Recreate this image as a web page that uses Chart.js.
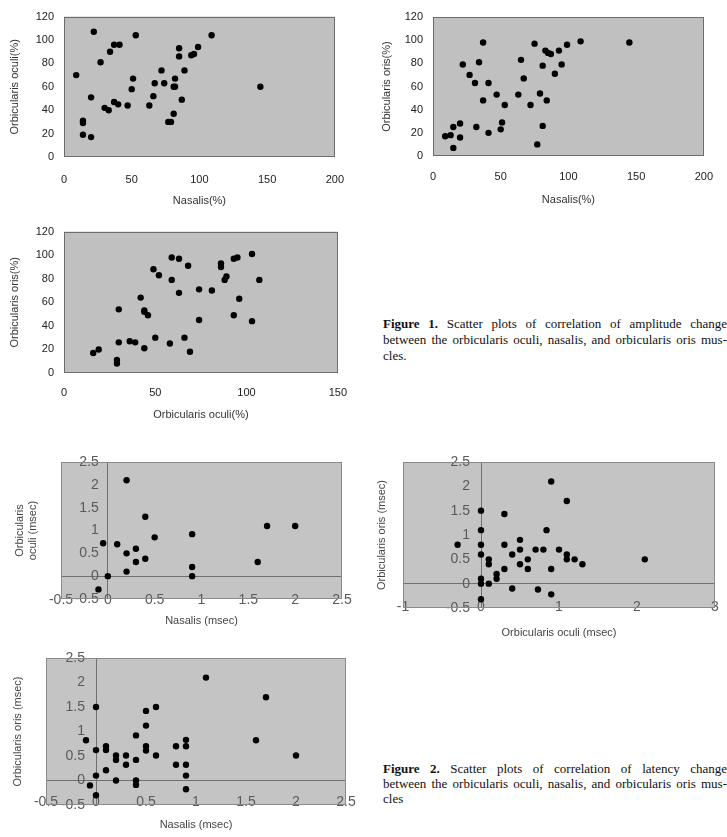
<!DOCTYPE html>
<html>
<head>
<meta charset="utf-8">
<script src="https://cdn.jsdelivr.net/npm/chart.js@4/dist/chart.umd.min.js"></script>
<style>
  html, body { margin: 0; padding: 0; background: #ffffff; }
  body { position: relative; width: 727px; height: 837px; overflow: hidden; }
  canvas { position: absolute; }
  .cap { position: absolute; left: 383px; width: 344px; font-family: "Liberation Serif", "Times New Roman", serif; font-size: 13px; color: #111; }
  .cap div { text-align: justify; text-align-last: justify; white-space: nowrap; }
  .cap div.last { text-align: left; text-align-last: left; }
</style>
</head>
<body>
<div class="cap" id="cap1" style="top:316px; line-height:16px;">
  <div><b>Figure 1.</b> Scatter plots of correlation of amplitude change</div>
  <div>between the orbicularis oculi, nasalis, and orbicularis oris mus-</div>
  <div class="last">cles.</div>
</div>
<div class="cap" id="cap2" style="top:761px; line-height:15px;">
  <div><b>Figure 2.</b> Scatter plots of correlation of latency change</div>
  <div>between the orbicularis oculi, nasalis, and orbicularis oris mus-</div>
  <div class="last">cles</div>
</div>
<script>
// ---------- DATA ----------
// Figure 1 (amplitude change, %)
const fig1a_nasalis = [9,22,53,109,37,41,34,27,85,85,94,96,99,72,89,51,67,74,82,81,82,50,145,20,66,87,37,40,47,63,30,33,81,77,79,14,14,14,20];
const fig1a_oculi   = [70,107,104,104,96,96,90,81,93,86,87,88,94,74,74,67,63,63,67,60,60,58,60,51,52,49,47,45,44,44,42,40,37,30,30,31,29,19,17];

const fig1b_nasalis = [37,75,109,145,99,93,83,85,87,22,34,65,81,95,27,67,90,31,41,47,63,79,37,84,53,72,20,51,50,32,15,81,9,13,20,41,15,77];
const fig1b_oris    = [98,97,99,98,96,91,91,89,88,79,81,83,78,79,70,67,71,63,63,53,53,54,48,48,44,44,28,29,23,25,25,26,17,18,16,20,7,10];

const fig1c_oculi   = [59,63,103,93,95,68,86,86,49,52,59,89,88,107,74,81,63,42,96,30,44,44,46,93,74,103,30,36,39,50,58,66,19,16,44,69,29,29];
const fig1c_oris    = [98,97,101,97,98,91,93,90,88,83,79,82,79,79,71,70,68,64,63,54,53,52,49,49,45,44,26,27,26,30,25,30,20,17,21,18,11,8];

// Figure 2 (latency change, msec)
const fig2a_nasalis = [0.2,0.4,1.7,2.0,0.5,0.9,-0.05,0.1,0.2,0.3,0.3,0.4,0.2,0.9,0.9,0,1.6,-0.1];
const fig2a_oculi   = [2.1,1.3,1.1,1.1,0.85,0.92,0.72,0.7,0.5,0.6,0.31,0.38,0.1,0.2,0,0,0.31,-0.29];

const fig2b_oculi   = [0.9,1.1,0,0.3,0,0.84,-0.3,0,0.3,0.5,0.5,0.7,0.8,1.0,0,0.4,1.1,1.1,1.2,1.3,2.1,0.1,0.1,0.6,0.5,0.6,0.3,0.9,0.2,0.2,0,0,0.1,0.4,0.73,0.9,0];
const fig2b_oris    = [2.1,1.7,1.5,1.43,1.1,1.1,0.8,0.8,0.8,0.9,0.7,0.7,0.7,0.7,0.6,0.6,0.6,0.5,0.5,0.4,0.5,0.5,0.4,0.5,0.4,0.3,0.3,0.3,0.2,0.1,0.1,0,0,-0.1,-0.12,-0.22,-0.32];

const fig2c_nasalis = [1.1,1.7,0,0.6,0.5,0.5,0.4,-0.1,1.6,0.9,0.9,0.8,0.1,0.1,0,0.5,0.5,0.2,0.2,0.3,0.4,0.6,2.0,0.3,0.8,0.9,0.1,0,0.9,0.2,0.4,0.4,-0.06,0.9,0];
const fig2c_oris    = [2.1,1.7,1.5,1.5,1.42,1.12,0.92,0.82,0.82,0.83,0.7,0.7,0.7,0.62,0.62,0.7,0.61,0.51,0.42,0.51,0.42,0.51,0.51,0.32,0.32,0.32,0.21,0.1,0.1,0,0,-0.09,-0.1,-0.18,-0.3];

// Tick labels
const pctYTicks      = [0,20,40,60,80,100,120];
const pctXTicks200   = [0,50,100,150,200];
const pctXTicks150   = [0,50,100,150];
const latTicks       = [-0.5,0,0.5,1,1.5,2,2.5];
const latXTicksWide  = [-1,0,1,2,3];

// Titles
const titles = {
  a1x: 'Nasalis(%)', a1y: 'Orbicularis oculi(%)',
  b1x: 'Nasalis(%)', b1y: 'Orbicularis oris(%)',
  c1x: 'Orbicularis oculi(%)', c1y: 'Orbicularis oris(%)',
  a2x: 'Nasalis (msec)', a2y: ['Orbicularis', 'oculi (msec)'],
  b2x: 'Orbicularis oculi (msec)', b2y: 'Orbicularis oris (msec)',
  c2x: 'Nasalis (msec)', c2y: 'Orbicularis oris (msec)'
};

// ---------- RENDERING ----------
const FAMILY = '"Liberation Sans", Arial, sans-serif';
Chart.defaults.font.family = FAMILY;
Chart.defaults.animation = false;

const plotBg = {
  id: 'plotBg',
  beforeDraw(chart, args, opts) {
    const {ctx, chartArea: a} = chart;
    ctx.save();
    ctx.fillStyle = opts.fill;
    ctx.fillRect(a.left, a.top, a.right - a.left, a.bottom - a.top);
    ctx.restore();
  },
  beforeDatasetsDraw(chart, args, opts) {
    const {ctx, chartArea: a} = chart;
    ctx.save();
    ctx.strokeStyle = opts.border;
    ctx.lineWidth = 1;
    ctx.strokeRect(Math.round(a.left) + 0.5, Math.round(a.top) + 0.5, Math.round(a.right - a.left) - 1, Math.round(a.bottom - a.top) - 1);
    ctx.restore();
  }
};

function makeCanvas(rect) {
  const c = document.createElement('canvas');
  c.width = rect.w; c.height = rect.h;
  c.style.left = rect.l + 'px'; c.style.top = rect.t + 'px';
  c.style.width = rect.w + 'px'; c.style.height = rect.h + 'px';
  document.body.appendChild(c);
  return c;
}

function pts(xs, ys) { return xs.map((x, i) => ({x: x, y: ys[i]})); }
function setTicks(arr) { return (scale) => { scale.ticks = arr.map(v => ({value: v})); }; }
function widestLabel(arr, size) {
  const ctx = document.createElement('canvas').getContext('2d');
  ctx.font = size + 'px ' + FAMILY;
  return Math.max(...arr.map(v => ctx.measureText(String(v)).width));
}

const dotStyle = { pointRadius: 3.2, pointHoverRadius: 3.2, pointBackgroundColor: '#000', pointBorderColor: '#000', pointBorderWidth: 0, showLine: false };

function pctChart(rect, area, cfg) {
  const c = makeCanvas(rect);
  const xH = cfg.xH;
  return new Chart(c, {
    type: 'scatter',
    data: { datasets: [Object.assign({ data: pts(cfg.xs, cfg.ys) }, dotStyle)] },
    options: {
      responsive: false, devicePixelRatio: 1, animation: false,
      layout: { padding: { left: 0, top: area.y0 - rect.t, right: rect.l + rect.w - area.x1, bottom: rect.t + rect.h - area.y1 - xH } },
      plugins: { legend: { display: false }, tooltip: { enabled: false }, plotBg: { fill: '#c0c0c0', border: '#6c6c6c' } },
      scales: {
        x: {
          type: 'linear', position: 'bottom', min: cfg.xTicks[0], max: cfg.xTicks[cfg.xTicks.length - 1],
          afterBuildTicks: setTicks(cfg.xTicks),
          ticks: { callback: v => String(v), font: { size: 11 }, color: '#222', padding: cfg.xPad, maxRotation: 0 },
          grid: { display: false, drawTicks: false }, border: { display: false },
          title: { display: true, text: cfg.xTitle, font: { size: 11 }, color: '#333', padding: { top: 0, bottom: 0 } },
          afterFit: s => { s.height = xH; }
        },
        y: {
          type: 'linear', position: 'left', min: 0, max: 120,
          afterBuildTicks: setTicks(pctYTicks),
          ticks: { callback: v => String(v), font: { size: 11 }, color: '#222', padding: 10 },
          grid: { display: false, drawTicks: false }, border: { display: false },
          title: { display: true, text: cfg.yTitle, font: { size: 11 }, color: '#333', padding: { top: cfg.yTitlePad, bottom: 0 } },
          afterFit: s => { s.width = area.x0 - rect.l; }
        }
      }
    },
    plugins: [plotBg]
  });
}

function latChart(rect, area, cfg) {
  const c = makeCanvas(rect);
  const xH = cfg.xH;
  const axisCol = '#707070';
  const zeroLine = ctx => (ctx.tick && ctx.tick.value === 0) ? axisCol : 'rgba(0,0,0,0)';
  const xMin = cfg.xTicks[0], xMax = cfg.xTicks[cfg.xTicks.length - 1];
  // y tick labels sit just left of the x = 0 axis line (inside the plot)
  const zeroPix = area.x0 + (0 - xMin) / (xMax - xMin) * (area.x1 - area.x0);
  const widest = widestLabel(latTicks, 14);
  const yLabPad = zeroPix - cfg.yGap - area.x0 - widest;
  return new Chart(c, {
    type: 'scatter',
    data: { datasets: [Object.assign({ data: pts(cfg.xs, cfg.ys) }, dotStyle)] },
    options: {
      responsive: false, devicePixelRatio: 1, animation: false,
      layout: { padding: { left: 0, top: area.y0 - rect.t, right: rect.l + rect.w - area.x1, bottom: rect.t + rect.h - area.y1 - xH } },
      plugins: { legend: { display: false }, tooltip: { enabled: false }, plotBg: { fill: '#c4c4c4', border: '#8a8a8a' } },
      scales: {
        x: {
          type: 'linear', position: 'bottom', min: xMin, max: xMax,
          afterBuildTicks: setTicks(cfg.xTicks),
          ticks: { callback: v => String(v), font: { size: 14 }, color: '#5a5a5a', padding: cfg.xPad, maxRotation: 0 },
          grid: { display: true, drawTicks: false, lineWidth: 1, color: zeroLine }, border: { display: false },
          title: { display: true, text: cfg.xTitle, font: { size: 11 }, color: '#444', padding: { top: 0, bottom: 0 } },
          afterFit: s => {
            s.height = xH;
            // labels straddle the plot's lower edge, so do not clip them to the axis box
            s._computeLabelArea = () => undefined;
          }
        },
        y: {
          type: 'linear', position: 'left', min: -0.5, max: 2.5,
          afterBuildTicks: setTicks(latTicks),
          ticks: { callback: v => String(v), font: { size: 14 }, color: '#5a5a5a', mirror: true, crossAlign: 'far', padding: yLabPad },
          grid: { display: true, drawTicks: false, lineWidth: 1, color: zeroLine }, border: { display: false },
          title: { display: true, text: cfg.yTitle, font: { size: 11 }, color: '#444', padding: { top: cfg.yTitlePad, bottom: 0 } },
          afterFit: s => { s.width = area.x0 - rect.l; s.paddingTop = 0; s.paddingBottom = 0; }
        }
      }
    },
    plugins: [plotBg]
  });
}

// Figure 1
pctChart({l: 0, t: 0, w: 360, h: 215}, {x0: 64, y0: 14, x1: 342, y1: 157},
  { xs: fig1a_nasalis, ys: fig1a_oculi, xTicks: pctXTicks200, xTitle: titles.a1x, yTitle: titles.a1y, xH: 51, xPad: 16, yTitlePad: 8 });
pctChart({l: 370, t: 0, w: 357, h: 215}, {x0: 433, y0: 17, x1: 709, y1: 156},
  { xs: fig1b_nasalis, ys: fig1b_oris, xTicks: pctXTicks200, xTitle: titles.b1x, yTitle: titles.b1y, xH: 51, xPad: 14, yTitlePad: 10 });
pctChart({l: 0, t: 215, w: 360, h: 210}, {x0: 64, y0: 230, x1: 342, y1: 373},
  { xs: fig1c_oculi, ys: fig1c_oris, xTicks: pctXTicks150, xTitle: titles.c1x, yTitle: titles.c1y, xH: 49, xPad: 13, yTitlePad: 8 });

// Figure 2
latChart({l: 0, t: 448, w: 360, h: 185}, {x0: 61, y0: 462, x1: 342, y1: 599},
  { xs: fig2a_nasalis, ys: fig2a_oculi, xTicks: latTicks, xTitle: titles.a2x, yTitle: titles.a2y, xH: 29, xPad: -7, yTitlePad: 13, yGap: 9 });
latChart({l: 370, t: 448, w: 357, h: 195}, {x0: 403, y0: 462, x1: 715, y1: 608},
  { xs: fig2b_oculi, ys: fig2b_oris, xTicks: latXTicksWide, xTitle: titles.b2x, yTitle: titles.b2y, xH: 32, xPad: -9, yTitlePad: 5, yGap: 11 });
latChart({l: 0, t: 645, w: 360, h: 192}, {x0: 46, y0: 658, x1: 346, y1: 805},
  { xs: fig2c_nasalis, ys: fig2c_oris, xTicks: latTicks, xTitle: titles.c2x, yTitle: titles.c2y, xH: 27, xPad: -11, yTitlePad: 11, yGap: 11 });
</script>
</body>
</html>
